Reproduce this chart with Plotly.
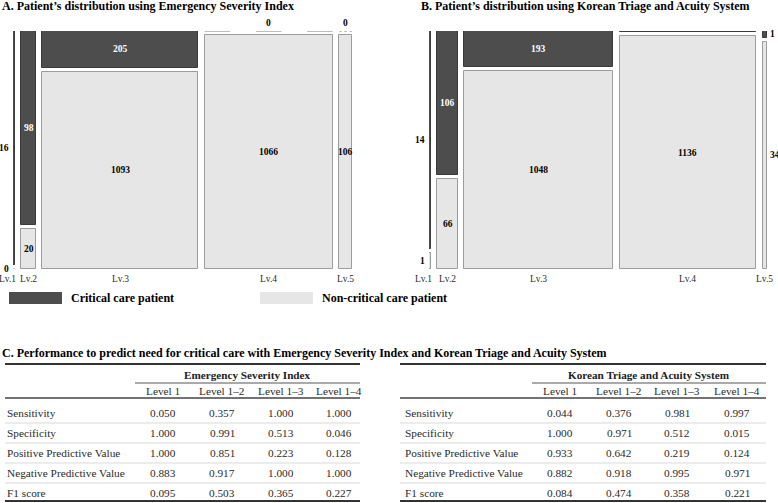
import plotly.graph_objects as go

W, H = 778, 503
FONT = "Liberation Serif"

# ---------------- data ----------------
levels = ["Lv.1", "Lv.2", "Lv.3", "Lv.4", "Lv.5"]
esi_critical = [16, 98, 205, 0, 0]
esi_noncritical = [0, 20, 1093, 1066, 106]
ktas_critical = [14, 106, 193, 5, 1]
ktas_noncritical = [1, 66, 1048, 1136, 34]

metrics = ["Sensitivity", "Specificity", "Positive Predictive Value",
           "Negative Predictive Value", "F1 score"]
cutoffs = ["Level 1", "Level 1–2", "Level 1–3", "Level 1–4"]
esi_perf = [
    ["0.050", "0.357", "1.000", "1.000"],
    ["1.000", "0.991", "0.513", "0.046"],
    ["1.000", "0.851", "0.223", "0.128"],
    ["0.883", "0.917", "1.000", "1.000"],
    ["0.095", "0.503", "0.365", "0.227"],
]
ktas_perf = [
    ["0.044", "0.376", "0.981", "0.997"],
    ["1.000", "0.971", "0.512", "0.015"],
    ["0.933", "0.642", "0.219", "0.124"],
    ["0.882", "0.918", "0.995", "0.971"],
    ["0.084", "0.474", "0.358", "0.221"],
]

DARK = "#4d4d4d"
DARK_LINE = "#3a3a3a"
LIGHT = "#e6e6e6"
LIGHT_LINE = "#9c9c9c"


def PX(x):
    return x / W


def PY(y):
    return 1 - y / H


fig = go.Figure()
annotations = []
shapes = []


def ann(**kw):
    d = dict(showarrow=False, xanchor="center", yanchor="middle")
    d.update(kw)
    annotations.append(d)
    return d


XGAP_FRAC = 0.021
YGAP = 0.017


def mosaic(crit, noncrit, xa, ya, px_left, px_right, px_top, px_bot):
    xref = xa
    yref = ya
    totals = [c + n for c, n in zip(crit, noncrit)]
    grand = sum(totals)
    gap = XGAP_FRAC * grand
    xr = grand + gap * (len(totals) - 1)
    pxs = (px_right - px_left) / xr
    pys = (px_bot - px_top) / (1 + YGAP)
    lefts = []
    cum = 0
    for t in totals:
        lefts.append(cum)
        cum += t + gap
    xs, ws, bs, hs, fc, lc = [], [], [], [], [], []
    for i, (c, n, t) in enumerate(zip(crit, noncrit, totals)):
        l = lefts[i]
        fn = n / t
        fcr = c / t
        cells = [
            (n, 0.0, fn, LIGHT, LIGHT_LINE, "black"),
            (c, fn + YGAP, fcr, DARK, DARK_LINE, "white"),
        ]
        narrow = t * pxs < 8
        for cnt, base, h, col, lcol, tcol in cells:
            if cnt > 0:
                xs.append(l + t / 2)
                ws.append(t)
                bs.append(base)
                hs.append(h)
                fc.append(col)
                lc.append(lcol)
            else:
                seg = max(t * pxs / 5, 0.6)
                fig.add_trace(go.Scatter(
                    x=[l, l + t], y=[base, base], mode="lines",
                    line=dict(color="#a8a8a8", width=1.5,
                              dash=f"{seg:.2f}px,{seg:.2f}px"),
                    xaxis=xa, yaxis=ya, hoverinfo="skip", showlegend=False))
            a = dict(text=f"<b>{cnt}</b>", xref=xref, yref=yref,
                     font=dict(family=FONT, size=9.5, color="black"))
            if narrow:
                a["y"] = base + h / 2
                if i == 0:
                    a.update(x=l, xanchor="right", xshift=-2)
                else:
                    a.update(x=l + t, xanchor="left", xshift=1)
            elif h * pys < 8:
                a.update(x=l + t / 2, y=base + h, yanchor="bottom", yshift=1)
            else:
                a.update(x=l + t / 2, y=base + h / 2)
                a["font"]["color"] = tcol
            ann(**a)
    fig.add_trace(go.Bar(
        x=xs, y=hs, base=bs, width=ws,
        marker=dict(color=fc, line=dict(color=lc, width=1)),
        xaxis=xa, yaxis=ya, hoverinfo="skip", showlegend=False))
    # level labels
    LF = dict(family=FONT, size=9.5, color="#2a2a2a")
    for i, lv in enumerate(levels):
        l = lefts[i]
        t = totals[i]
        if i == 0:
            ann(text=lv, x=l + t, y=PY(279), xref=xref, yref="paper",
                xanchor="right", xshift=3, font=LF)
        else:
            ann(text=lv, x=l + t / 2, y=PY(279), xref=xref, yref="paper", font=LF)
    return xr


xrA = mosaic(esi_critical, esi_noncritical, "x", "y", 13, 352, 31, 269)
xrB = mosaic(ktas_critical, ktas_noncritical, "x2", "y2", 429, 767, 31, 269)

# titles
TF = dict(family=FONT, size=12, color="black")
ann(text="<b>A. Patient’s distribution using Emergency Severity Index</b>",
    x=PX(0), y=PY(6), xref="paper", yref="paper", xanchor="left", font=TF)
ann(text="<b>B. Patient’s distribution using Korean Triage and Acuity System</b>",
    x=PX(419), y=PY(6), xref="paper", yref="paper", xanchor="left", font=TF)
ann(text="<b>C. Performance to predict need for critical care with Emergency Severity Index and Korean Triage and Acuity System</b>",
    x=PX(0), y=PY(353), xref="paper", yref="paper", xanchor="left", font=TF)

# legend
for (x0, x1, col, txt, tx) in [(9, 62, DARK, "Critical care patient", 69),
                               (260, 313, LIGHT, "Non-critical care patient", 320)]:
    shapes.append(dict(type="rect", xref="paper", yref="paper",
                       x0=PX(x0), x1=PX(x1), y0=PY(304), y1=PY(292),
                       fillcolor=col, line=dict(width=0)))
    ann(text=f"<b>{txt}</b>", x=PX(tx), y=PY(298), xref="paper", yref="paper",
        xanchor="left", font=dict(family=FONT, size=12, color="black"))


def hline(x0, x1, y, width, color):
    shapes.append(dict(type="line", xref="paper", yref="paper",
                       x0=PX(x0), x1=PX(x1), y0=PY(y), y1=PY(y),
                       line=dict(color=color, width=width)))


CF = dict(family=FONT, size=11.3, color="#2a2a2a")


def table(x0, x1, hx0, label_x, col_x, header, data):
    hline(x0, x1, 364, 2, "#333")
    hline(hx0, x1, 383, 1, "#555")
    hline(x0, x1, 398, 1.3, "#444")
    for yy in [423, 443, 463, 483]:
        hline(x0, x1, yy, 0.8, "#cfcfcf")
    hline(x0, x1, 501, 2, "#333")
    ann(text=f"<b>{header}</b>", x=PX((hx0 + x1) / 2), y=PY(375),
        xref="paper", yref="paper", font=dict(family=FONT, size=11.2, color="#222"))
    for cx, c in zip(col_x, cutoffs):
        ann(text=c, x=PX(cx), y=PY(391), xref="paper", yref="paper", font=CF)
    for r, (m, row) in enumerate(zip(metrics, data)):
        yy = 413 + 20 * r
        ann(text=m, x=PX(label_x), y=PY(yy), xref="paper", yref="paper",
            xanchor="left", font=CF)
        for cx, v in zip(col_x, row):
            ann(text=v, x=PX(cx), y=PY(yy), xref="paper", yref="paper", font=CF)


table(5, 360, 135, 5, [163, 222, 281, 339], "Emergency Severity Index", esi_perf)
table(400, 766, 532, 403, [560, 619, 677, 737], "Korean Triage and Acuity System", ktas_perf)

axis_common = dict(visible=False, fixedrange=True)
fig.update_layout(
    width=W, height=H,
    margin=dict(l=0, r=0, t=0, b=0),
    paper_bgcolor="white", plot_bgcolor="white",
    barmode="overlay", bargap=0,
    showlegend=False,
    xaxis=dict(domain=[PX(13), PX(352)], range=[0, xrA], **axis_common),
    yaxis=dict(domain=[PY(269), PY(31)], range=[0, 1 + YGAP], **axis_common),
    xaxis2=dict(domain=[PX(429), PX(767)], range=[0, xrB], anchor="y2", **axis_common),
    yaxis2=dict(domain=[PY(269), PY(31)], range=[0, 1 + YGAP], anchor="x2", **axis_common),
    annotations=annotations,
    shapes=shapes,
)

fig.write_html("out.html", config={"displayModeBar": False},
               post_script="document.body.style.margin='0';document.body.style.overflow='hidden';")
